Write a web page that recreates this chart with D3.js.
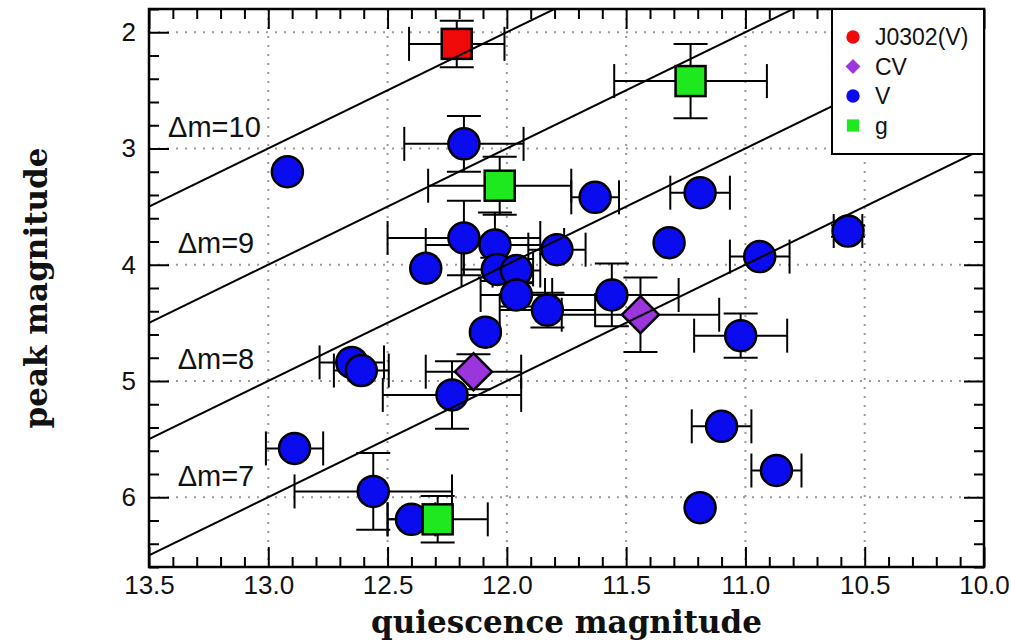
<!DOCTYPE html>
<meta charset="utf-8">
<style>
    body {
        margin: 0;
        padding: 0;
        background: #fff;
    }
    .tick text {
        font-family: "Liberation Sans", Arial, sans-serif;
        font-size: 26px;
        fill: #111;
    }
    .grid line {
        stroke: #999;
        stroke-width: 2;
        stroke-dasharray: 2, 7;
    }
    .err {
        stroke: #000;
        stroke-width: 2;
        fill: none;
    }
    .atitle {
        font-family: "DejaVu Serif", serif;
        font-weight: bold;
        font-size: 31px;
        fill: #111;
    }
</style>

<body>

<script src="https://d3js.org/d3.v7.min.js"></script>

<script>

// quiescence mag, peak mag, x error, y error
var vQuies = [12.92, 12.18, 11.63, 11.19, 11.32, 10.94, 10.57, 12.18, 12.05, 12.34, 12.04, 11.96, 11.79, 11.96,
              11.83, 12.09, 11.56, 11.02, 12.65, 12.61, 12.23, 12.89, 12.56, 12.40, 11.19, 11.10, 10.87];
var vPeak  = [3.20, 2.96, 3.42, 3.38, 3.81, 3.93, 3.71, 3.77, 3.83, 4.03, 4.04, 4.05, 3.87, 4.26,
              4.39, 4.58, 4.26, 4.61, 4.84, 4.91, 5.12, 5.58, 5.95, 6.19, 6.09, 5.39, 5.77];
var vXerr  = [0, 0.25, 0.10, 0.125, 0, 0.125, 0.06, 0.32, 0.29, 0, 0.15, 0.10, 0.12, 0.15,
              0.20, 0, 0.28, 0.195, 0.135, 0.115, 0.29, 0.12, 0.33, 0.10, 0, 0.125, 0.105];
var vYerr  = [0, 0.24, 0, 0, 0, 0, 0.05, 0.32, 0.28, 0, 0.10, 0.10, 0, 0.10,
              0.15, 0, 0.27, 0.19, 0, 0, 0.29, 0, 0.33, 0, 0, 0, 0];

var cvQuies = [11.44, 12.14];
var cvPeak  = [4.43, 4.92];
var cvXerr  = [0.33, 0.20];
var cvYerr  = [0.32, 0.15];

var gQuies = [11.23, 12.03, 12.29];
var gPeak  = [2.42, 3.32, 6.19];
var gXerr  = [0.32, 0.30, 0.21];
var gYerr  = [0.32, 0.25, 0.20];

var jQuies = [12.21];
var jPeak  = [2.10];
var jXerr  = [0.20];
var jYerr  = [0.20];

var deltaM = [7, 8, 9, 10];
var xTicks = [13.5, 13.0, 12.5, 12.0, 11.5, 11.0, 10.5, 10.0];
var yTicks = [2, 3, 4, 5, 6];
var legendNames = ["J0302(V)", "CV", "V", "g"];

var width = 1011, height = 642;
var pLeft = 149, pRight = 984, pTop = 9, pBottom = 567;

var x = d3.scaleLinear().domain([13.5, 10.0]).range([pLeft, pRight]);
var y = d3.scaleLinear().domain([1.8, 6.6]).range([pTop, pBottom]);

var svg = d3.select("body").append("svg")
    .attr("width", width)
    .attr("height", height);

svg.append("defs").append("clipPath").attr("id", "plot")
  .append("rect").attr("x", pLeft).attr("y", pTop)
  .attr("width", pRight - pLeft).attr("height", pBottom - pTop);

// grid
var grid = svg.append("g").attr("class", "grid");
grid.selectAll(".gx").data(xTicks.slice(1, -1)).enter().append("line")
    .attr("x1", d => x(d)).attr("x2", d => x(d))
    .attr("y1", pTop).attr("y2", pBottom);
grid.selectAll(".gy").data(yTicks).enter().append("line")
    .attr("x1", pLeft).attr("x2", pRight)
    .attr("y1", d => y(d)).attr("y2", d => y(d));

// ticks
var xMinor = d3.range(135, 99, -1).map(d => d / 10).filter(d => xTicks.indexOf(d) < 0);
var yMinor = d3.range(18, 67, 2).map(d => d / 10).filter(d => yTicks.indexOf(d) < 0);

function axisStyle(g) {
  g.select(".domain").remove();
  g.selectAll(".tick line").attr("stroke", "#000").attr("stroke-width", 2);
}

svg.append("g").attr("transform", "translate(0," + pBottom + ")")
    .call(d3.axisBottom(x).tickValues(xTicks).tickFormat(d3.format(".1f")).tickSize(-20).tickSizeOuter(0).tickPadding(9))
    .call(axisStyle);
svg.append("g").attr("transform", "translate(0," + pBottom + ")")
    .call(d3.axisBottom(x).tickValues(xMinor).tickFormat("").tickSize(-10).tickSizeOuter(0))
    .call(axisStyle);
svg.append("g").attr("transform", "translate(0," + pTop + ")")
    .call(d3.axisTop(x).tickValues(xTicks).tickFormat("").tickSize(-20).tickSizeOuter(0))
    .call(axisStyle);
svg.append("g").attr("transform", "translate(0," + pTop + ")")
    .call(d3.axisTop(x).tickValues(xMinor).tickFormat("").tickSize(-10).tickSizeOuter(0))
    .call(axisStyle);
svg.append("g").attr("transform", "translate(" + pLeft + ",0)")
    .call(d3.axisLeft(y).tickValues(yTicks).tickFormat(d3.format("d")).tickSize(-20).tickSizeOuter(0).tickPadding(13))
    .call(axisStyle);
svg.append("g").attr("transform", "translate(" + pLeft + ",0)")
    .call(d3.axisLeft(y).tickValues(yMinor).tickFormat("").tickSize(-10).tickSizeOuter(0))
    .call(axisStyle);
svg.append("g").attr("transform", "translate(" + pRight + ",0)")
    .call(d3.axisRight(y).tickValues(yTicks).tickFormat("").tickSize(-20).tickSizeOuter(0))
    .call(axisStyle);
svg.append("g").attr("transform", "translate(" + pRight + ",0)")
    .call(d3.axisRight(y).tickValues(yMinor).tickFormat("").tickSize(-10).tickSizeOuter(0))
    .call(axisStyle);

function rows(qs, ps, xe, ye) {
  return qs.map((q, i) => ({q: q, p: ps[i], xe: xe[i], ye: ye[i]}));
}
var series = [
  {name: "V", rows: rows(vQuies, vPeak, vXerr, vYerr), color: "#0b0bf0", shape: "circle"},
  {name: "CV", rows: rows(cvQuies, cvPeak, cvXerr, cvYerr), color: "#9a36dc", shape: "diamond"},
  {name: "g", rows: rows(gQuies, gPeak, gXerr, gYerr), color: "#1ee81e", shape: "square"},
  {name: "J0302(V)", rows: rows(jQuies, jPeak, jXerr, jYerr), color: "#f00a0a", shape: "square"}
];

var plot = svg.append("g").attr("clip-path", "url(#plot)");
var cap = 17;

// error bars under the markers
series.forEach(s => {
  var eg = plot.append("g").attr("class", "err");
  s.rows.forEach(d => {
    if (d.xe > 0) {
      eg.append("line").attr("x1", x(d.q + d.xe)).attr("x2", x(d.q - d.xe)).attr("y1", y(d.p)).attr("y2", y(d.p));
      [d.q + d.xe, d.q - d.xe].forEach(v => eg.append("line")
          .attr("x1", x(v)).attr("x2", x(v)).attr("y1", y(d.p) - cap).attr("y2", y(d.p) + cap));
    }
    if (d.ye > 0) {
      eg.append("line").attr("x1", x(d.q)).attr("x2", x(d.q)).attr("y1", y(d.p - d.ye)).attr("y2", y(d.p + d.ye));
      [d.p - d.ye, d.p + d.ye].forEach(v => eg.append("line")
          .attr("x1", x(d.q) - cap).attr("x2", x(d.q) + cap).attr("y1", y(v)).attr("y2", y(v)));
    }
  });
});

// markers
series.forEach(s => {
  var g = plot.append("g").attr("fill", s.color).attr("stroke", "#000").attr("stroke-width", 2.5);
  if (s.shape == "circle") {
    g.selectAll("circle").data(s.rows).enter().append("circle")
        .attr("cx", d => x(d.q)).attr("cy", d => y(d.p)).attr("r", 15.5);
  } else if (s.shape == "square") {
    g.selectAll("rect").data(s.rows).enter().append("rect")
        .attr("x", d => x(d.q) - 15).attr("y", d => y(d.p) - 15)
        .attr("width", 30).attr("height", 30);
  } else {
    g.selectAll("path").data(s.rows).enter().append("path")
        .attr("transform", d => "translate(" + x(d.q) + "," + y(d.p) + ")")
        .attr("d", "M0,-18.5L18.5,0L0,18.5L-18.5,0Z");
  }
});

// constant amplitude lines: peak = quiescence - dm
var line = d3.line().x(d => x(d[0])).y(d => y(d[1]));
plot.selectAll(".dm").data(deltaM).enter().append("path")
    .attr("d", dm => line([[13.5, 13.5 - dm], [10.0, 10.0 - dm]]))
    .attr("stroke", "#000").attr("stroke-width", 2).attr("fill", "none");

svg.selectAll(".dmlab").data(deltaM).enter().append("text")
    .attr("x", dm => x(dm == 10 ? 13.42 : 13.38))
    .attr("y", dm => y(12.9 - dm))
    .attr("font-family", "Liberation Sans, Arial, sans-serif")
    .attr("font-size", 29)
    .attr("fill", "#111")
    .text(dm => "\u0394m=" + dm);

// frame
svg.append("rect").attr("x", pLeft).attr("y", pTop)
    .attr("width", pRight - pLeft).attr("height", pBottom - pTop)
    .attr("fill", "none").attr("stroke", "#000").attr("stroke-width", 2.5);

// legend
var lg = svg.append("g").attr("transform", "translate(832," + pTop + ")");
lg.append("rect").attr("width", pRight - 832).attr("height", 145)
    .attr("fill", "#fff").attr("stroke", "#000").attr("stroke-width", 2);
var legendSym = {"J0302(V)": d3.symbolCircle, "CV": d3.symbolDiamond2, "V": d3.symbolCircle, "g": d3.symbolSquare};
var legendCol = {"J0302(V)": "#f00a0a", "CV": "#9a36dc", "V": "#0b0bf0", "g": "#1ee81e"};
legendNames.forEach((n, i) => {
  var row = lg.append("g").attr("transform", "translate(0," + (28 + i * 29.5) + ")");
  row.append("path").attr("transform", "translate(21,0)")
      .attr("d", d3.symbol().type(legendSym[n]).size(n == "g" ? 150 : 140)())
      .attr("fill", legendCol[n]);
  row.append("text").attr("x", 43).attr("dy", "0.36em")
      .attr("font-family", "Liberation Sans, Arial, sans-serif")
      .attr("font-size", 23).attr("fill", "#111")
      .text(n);
});

// axis titles
svg.append("text").attr("class", "atitle")
    .attr("x", (pLeft + pRight) / 2).attr("y", 633)
    .attr("text-anchor", "middle")
    .text("quiescence magnitude");
svg.append("text").attr("class", "atitle")
    .attr("transform", "translate(47,288) rotate(-90)")
    .attr("text-anchor", "middle")
    .text("peak magnitude");

</script>
